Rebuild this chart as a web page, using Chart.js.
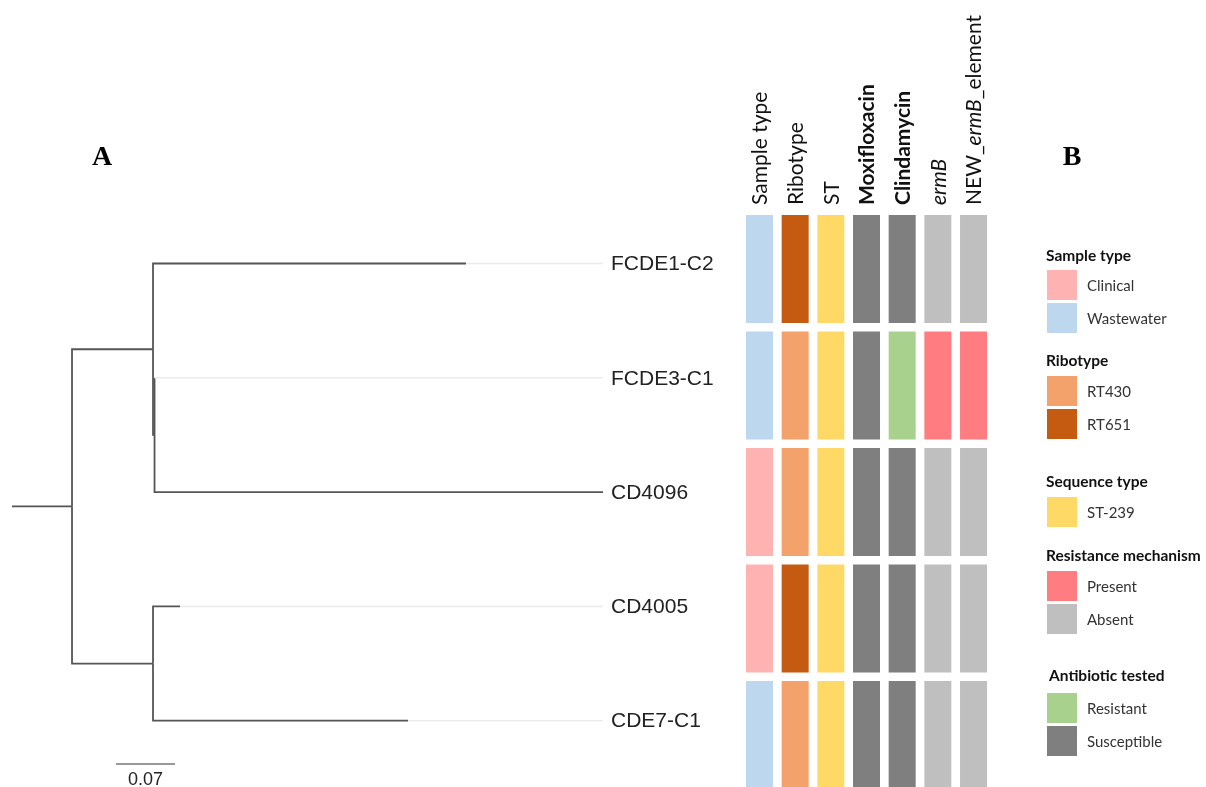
<!DOCTYPE html>
<html>
<head>
<meta charset="utf-8">
<title>Phylogeny with heatmap</title>
<script src="https://cdn.jsdelivr.net/npm/chart.js@4.4.1/dist/chart.umd.min.js"></script>
<style>
  html, body { margin: 0; padding: 0; background: #fff; overflow: hidden; }
  canvas { display: block; }
</style>
</head>
<body>
<canvas id="treeChart" width="1206" height="787"></canvas>
<script>
// Tree: tips (top to bottom) and their cumulative depth from the root stem
const tipNames = ["FCDE1-C2", "FCDE3-C1", "CD4096", "CD4005", "CDE7-C1"];
const tipDepths = [0.5386, 0.1691, 0.7012, 0.1993, 0.4698];
const tipParents = ["cladeA", "cladeA2", "cladeA2", "cladeB", "cladeB"];

// Internal nodes
const nodeNames = ["root", "cladeA", "cladeA2", "cladeB"];
const nodeDepths = [0.0712, 0.1673, 0.1691, 0.1673];
const nodeParents = [null, "root", "cladeA", "root"];

const stemStart = 0;
const guideEnd = 0.7012;
const scaleBarLength = 0.07;
const scaleBarLabel = "0.07";

// Heatmap columns (one value per tip, same order as tipNames)
const columnLabels = ["Sample type", "Ribotype", "ST", "<b>Moxifloxacin</b>", "<b>Clindamycin</b>", "<i>ermB</i>", "NEW_<i>ermB</i>_element"];
const sampleType = ["Wastewater", "Wastewater", "Clinical", "Clinical", "Wastewater"];
const ribotype = ["RT651", "RT430", "RT430", "RT651", "RT430"];
const sequenceType = ["ST-239", "ST-239", "ST-239", "ST-239", "ST-239"];
const moxifloxacin = ["Susceptible", "Susceptible", "Susceptible", "Susceptible", "Susceptible"];
const clindamycin = ["Susceptible", "Resistant", "Susceptible", "Susceptible", "Susceptible"];
const ermB = ["Absent", "Present", "Absent", "Absent", "Absent"];
const newErmBElement = ["Absent", "Present", "Absent", "Absent", "Absent"];
const heatColumns = [sampleType, ribotype, sequenceType, moxifloxacin, clindamycin, ermB, newErmBElement];

const categoryColors = {
    "Clinical": "#FFB2B2",
    "Wastewater": "#BDD7EE",
    "RT430": "#F2A26A",
    "RT651": "#C55A11",
    "ST-239": "#FFD966",
    "Present": "#FF7C80",
    "Absent": "#BFBFBF",
    "Resistant": "#A9D18E",
    "Susceptible": "#7F7F7F"
};

// Legend
const legendTitles = ["Sample type", "Ribotype", "Sequence type", "Resistance mechanism", "Antibiotic tested"];
const legendItems = [["Clinical", "Wastewater"], ["RT430", "RT651"], ["ST-239"], ["Present", "Absent"], ["Resistant", "Susceptible"]];

// ---- build tree geometry from the arrays above ----
const nodeY = {};
function yOf(name) {
    if (nodeY[name] !== undefined) return nodeY[name];
    let ys = [];
    tipParents.forEach((p, i) => { if (p === name) ys.push(i); });
    nodeParents.forEach((p, i) => { if (p === name) ys.push(yOf(nodeNames[i])); });
    nodeY[name] = ys.reduce((a, b) => a + b, 0) / ys.length;
    return nodeY[name];
}
function depthOf(name) { return nodeDepths[nodeNames.indexOf(name)]; }

const TREE_COLOR = "#555555";
const GUIDE_COLOR = "#EBEBEB";
let treeDatasets = [];

function branch(points, color, width) {
    return {
        type: "line", xAxisID: "x", yAxisID: "y",
        data: points, borderColor: color, borderWidth: width,
        pointRadius: 0, fill: false, tension: 0, order: 2
    };
}

// guide lines from each tip to the labels
tipNames.forEach((t, i) => {
    if (tipDepths[i] < guideEnd) {
        treeDatasets.push(branch([{ x: tipDepths[i], y: i }, { x: guideEnd, y: i }], GUIDE_COLOR, 1.5));
    }
});
// root stem
const rootY = yOf("root");
treeDatasets.push(branch([{ x: stemStart, y: rootY }, { x: depthOf("root"), y: rootY }], TREE_COLOR, 1.8));
// internal edges
nodeNames.forEach((n, i) => {
    const p = nodeParents[i];
    if (!p) return;
    treeDatasets.push(branch([
        { x: depthOf(p), y: yOf(p) }, { x: depthOf(p), y: yOf(n) }, { x: nodeDepths[i], y: yOf(n) }
    ], TREE_COLOR, 1.8));
});
// tip edges
tipNames.forEach((t, i) => {
    const p = tipParents[i];
    treeDatasets.push(branch([
        { x: depthOf(p), y: yOf(p) }, { x: depthOf(p), y: i }, { x: tipDepths[i], y: i }
    ], TREE_COLOR, 1.8));
});
// scale bar
const scaleBarX = 0.1234, scaleBarY = 4.379;
treeDatasets.push(branch([{ x: scaleBarX, y: scaleBarY }, { x: scaleBarX + scaleBarLength, y: scaleBarY }], "#777777", 1.5));

// heatmap as floating bars, one dataset per column
const CELL_HALF = 0.4635;
let heatDatasets = heatColumns.map((col, c) => ({
    type: "bar", xAxisID: "xh", yAxisID: "yh",
    data: col.map((v, r) => ({ x: c, y: [r - CELL_HALF, r + CELL_HALF] })),
    backgroundColor: col.map(v => categoryColors[v]),
    borderWidth: 0, grouped: false,
    categoryPercentage: 1, barPercentage: 0.757, order: 1
}));

// ---- text / legend plugin ----
function drawRich(ctx, markup, size) {
    const parts = markup.split(/(<[bi]>.*?<\/[bi]>)/).filter(s => s.length);
    let x = 0;
    parts.forEach(p => {
        let style = "", weight = "normal", txt = p;
        if (p.startsWith("<b>")) { weight = "bold"; txt = p.slice(3, -4); }
        if (p.startsWith("<i>")) { style = "italic "; txt = p.slice(3, -4); }
        ctx.font = style + weight + " " + size + "px Lato, 'Open Sans', sans-serif";
        ctx.fillText(txt, x, 0);
        x += ctx.measureText(txt).width;
    });
}

const annotations = {
    id: "annotations",
    beforeDraw(chart) {
        const ctx = chart.ctx;
        ctx.save();
        ctx.fillStyle = "#fff";
        ctx.fillRect(0, 0, chart.width, chart.height);
        ctx.restore();
    },
    afterDraw(chart) {
        const ctx = chart.ctx;
        const sx = chart.scales.x, sy = chart.scales.y, hx = chart.scales.xh;
        ctx.save();

        // tip labels
        ctx.fillStyle = "#222";
        ctx.font = "21px 'Liberation Sans', Arial, sans-serif";
        ctx.textAlign = "left";
        ctx.textBaseline = "middle";
        tipNames.forEach((t, i) => {
            ctx.fillText(t, sx.getPixelForValue(guideEnd) + 8, sy.getPixelForValue(i) + 1);
        });

        // scale bar label
        ctx.font = "18px 'Liberation Sans', Arial, sans-serif";
        ctx.textAlign = "center";
        ctx.fillText(scaleBarLabel, sx.getPixelForValue(scaleBarX + scaleBarLength / 2), sy.getPixelForValue(scaleBarY) + 16);

        // column headers
        ctx.fillStyle = "#111";
        ctx.textAlign = "left";
        columnLabels.forEach((lab, c) => {
            ctx.save();
            ctx.translate(hx.getPixelForValue(c) + 1, 205);
            ctx.rotate(-Math.PI / 2);
            drawRich(ctx, lab, 21);
            ctx.restore();
        });

        // panel letters
        ctx.font = "bold 28px 'Liberation Serif', 'Times New Roman', serif";
        ctx.textAlign = "center";
        ctx.fillStyle = "#000";
        ctx.fillText("A", 102, 158);
        ctx.fillText("B", 1072, 158);

        // legend
        const titleY = [256, 361, 482, 556, 676];
        const titleX = [1046, 1046, 1046, 1046, 1049];
        const boxTop = [270, 376, 497, 571, 693];
        const boxSize = 30, boxStep = 33;
        ctx.textAlign = "left";
        legendTitles.forEach((title, g) => {
            ctx.fillStyle = "#111";
            ctx.font = "bold 15.5px Lato, 'Open Sans', sans-serif";
            ctx.fillText(title, titleX[g], titleY[g]);
            legendItems[g].forEach((item, k) => {
                const top = boxTop[g] + k * boxStep;
                ctx.fillStyle = categoryColors[item];
                ctx.fillRect(1047, top, boxSize, boxSize);
                ctx.fillStyle = "#333";
                ctx.font = "15px Lato, 'Open Sans', sans-serif";
                ctx.fillText(item, 1087, top + boxSize / 2 + 1);
            });
        });
        ctx.restore();
    }
};

// px per unit: 59px for 0.07 substitutions
const TREE_K = 59 / 0.07;
new Chart(document.getElementById("treeChart"), {
    type: "line",
    data: { datasets: heatDatasets.concat(treeDatasets) },
    options: {
        responsive: false,
        animation: false,
        devicePixelRatio: 1,
        layout: { padding: 0 },
        plugins: { legend: { display: false }, tooltip: { enabled: false } },
        scales: {
            x: { type: "linear", display: false, offset: false, min: -12 / TREE_K, max: (1206 - 12) / TREE_K },
            y: { type: "linear", display: false, reverse: true, min: -263.5 / 114.3, max: (787 - 263.5) / 114.3 },
            xh: { type: "linear", axis: "x", display: false, offset: false, min: -759.5 / 35.67, max: (1206 - 759.5) / 35.67 },
            yh: { type: "linear", axis: "y", display: false, reverse: true, min: -269 / 116.5, max: (787 - 269) / 116.5 }
        }
    },
    plugins: [annotations]
});
</script>
</body>
</html>
